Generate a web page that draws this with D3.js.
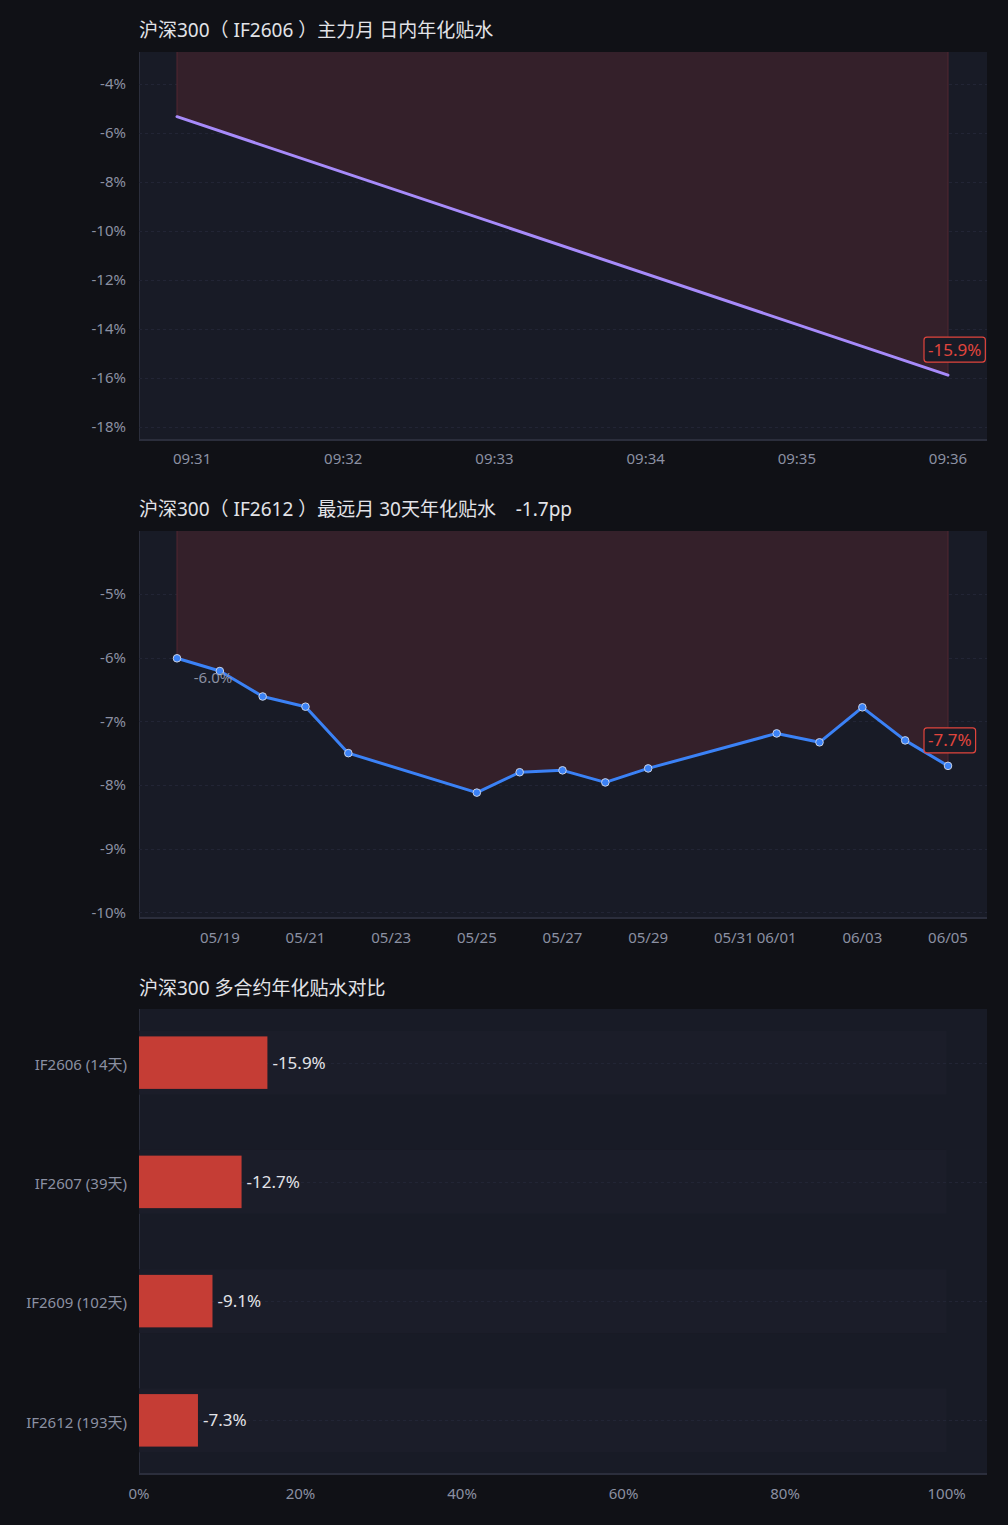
<!DOCTYPE html>
<html>
<head>
<meta charset="utf-8">
<script src="https://cdn.jsdelivr.net/npm/d3@7"></script>
<style>
  body { margin: 0; background: #101116; }
  svg text { font-family: "Noto Sans", "Noto Sans CJK SC", sans-serif; }
</style>
</head>
<body>
<div id="chart"></div>
<script>
var width = 1008;
var height = 1525;

// chart 1: intraday annualized basis (main month)
var introTimes = ["09:30:54", "09:36:00"];
var introValues = [-5.33, -15.88];
var introTicks = ["09:31", "09:32", "09:33", "09:34", "09:35", "09:36"];
var introYTicks = [-4, -6, -8, -10, -12, -14, -16, -18];

// chart 2: far month 30 days
var farDates = ["05/18", "05/19", "05/20", "05/21", "05/22", "05/25", "05/26", "05/27",
                "05/28", "05/29", "06/01", "06/02", "06/03", "06/04", "06/05"];
var farValues = [-6.01, -6.21, -6.61, -6.77, -7.50, -8.12, -7.80, -7.77,
                 -7.96, -7.74, -7.19, -7.33, -6.78, -7.30, -7.70];
var farTicks = ["05/19", "05/21", "05/23", "05/25", "05/27", "05/29", "05/31", "06/01", "06/03", "06/05"];
var farYTicks = [-5, -6, -7, -8, -9, -10];

// chart 3: contracts compare
var contracts = ["IF2606 (14天)", "IF2607 (39天)", "IF2609 (102天)", "IF2612 (193天)"];
var contractValues = [-15.9, -12.7, -9.1, -7.3];
var barTicks = [0, 20, 40, 60, 80, 100];

var C = {
    page: "#101116",
    plot: "#181b26",
    grid: "#222535",
    axis: "#2b2e3c",
    text: "#8b90a2",
    title: "#e2e3e8",
    redFill: "#34202a",
    redEdge: "#532630",
    purple: "#a78bfa",
    blue: "#3b82f6",
    bar: "#c53d35",
    tag: "#e0453d"
};

var left = 139, right = 987, padX = 38;

var fmt1 = d3.formatLocale({decimal: ".", thousands: ",", grouping: [3], currency: ["", ""], minus: "-"}).format(".1f");

var svg = d3.select("#chart").append("svg")
    .attr("width", width)
    .attr("height", height);

svg.append("rect").attr("width", width).attr("height", height).attr("fill", C.page);

var parseHM = d3.timeParse("%H:%M:%S");
var parseD = function(s){ return d3.timeParse("%Y/%m/%d")("2026/" + s); };

function title(y, txt){
    svg.append("text")
        .attr("x", left).attr("y", y)
        .attr("fill", C.title)
        .attr("font-size", 19)
        .style("white-space", "pre")
        .text(txt);
}

function plotFrame(top, bottom){
    svg.append("rect")
        .attr("x", left).attr("y", top)
        .attr("width", right - left).attr("height", bottom - top)
        .attr("fill", C.plot);
    svg.append("line")
        .attr("x1", left + 0.5).attr("x2", left + 0.5)
        .attr("y1", top).attr("y2", bottom)
        .attr("stroke", C.axis).attr("stroke-width", 1);
    svg.append("line")
        .attr("x1", left).attr("x2", right)
        .attr("y1", bottom).attr("y2", bottom)
        .attr("stroke", C.axis).attr("stroke-width", 2);
}

function yAxisGrid(y, ticks, fmt){
    var g = svg.append("g");
    g.selectAll("line").data(ticks).enter().append("line")
        .attr("x1", left).attr("x2", right)
        .attr("y1", function(d){ return Math.round(y(d)) + 0.5; })
        .attr("y2", function(d){ return Math.round(y(d)) + 0.5; })
        .attr("stroke", C.grid).attr("stroke-dasharray", "3,3");
    g.selectAll("text").data(ticks).enter().append("text")
        .attr("x", 126)
        .attr("y", function(d){ return y(d); })
        .attr("dy", "0.35em")
        .attr("text-anchor", "end")
        .attr("fill", C.text)
        .attr("font-size", 15)
        .text(fmt);
}

function tag(x, y, txt){
    var g = svg.append("g");
    var t = g.append("text")
        .attr("x", x - 20).attr("y", y - 25.5)
        .attr("dy", "0.35em")
        .attr("fill", C.tag)
        .attr("font-size", 17)
        .text(txt);
    var w = t.node().getComputedTextLength();
    g.insert("rect", "text")
        .attr("x", x - 24).attr("y", y - 38)
        .attr("width", w + 8).attr("height", 25)
        .attr("rx", 3)
        .attr("fill", C.plot)
        .attr("stroke", C.tag).attr("stroke-width", 1.2);
}

// ---------- chart 1 ----------
(function(){
    var top = 52, bottom = 440;
    title(37, "沪深300（ IF2606 ）主力月 日内年化贴水");
    plotFrame(top, bottom);

    var data = introTimes.map(function(t, i){ return {t: parseHM(t), v: introValues[i]}; });
    var x = d3.scaleTime()
        .domain(d3.extent(data, function(d){ return d.t; }))
        .range([left + padX, right - padX - 1]);
    var y = d3.scaleLinear().domain([-18.53, -2.69]).range([bottom, top]);

    yAxisGrid(y, introYTicks, function(d){ return d + "%"; });

    var area = d3.area()
        .x(function(d){ return x(d.t); })
        .y0(top)
        .y1(function(d){ return y(d.v); });
    svg.append("path").datum(data).attr("d", area).attr("fill", C.redFill);
    [data[0], data[data.length - 1]].forEach(function(d){
        svg.append("line")
            .attr("x1", x(d.t)).attr("x2", x(d.t))
            .attr("y1", top).attr("y2", y(d.v))
            .attr("stroke", C.redEdge).attr("stroke-width", 1);
    });

    var line = d3.line()
        .x(function(d){ return x(d.t); })
        .y(function(d){ return y(d.v); });
    svg.append("path").datum(data).attr("d", line)
        .attr("fill", "none").attr("stroke", C.purple)
        .attr("stroke-width", 3).attr("stroke-linecap", "round");

    var xa = svg.append("g");
    xa.selectAll("text").data(introTicks).enter().append("text")
        .attr("x", function(d){ return x(parseHM(d + ":00")); })
        .attr("y", 459).attr("dy", "0.35em")
        .attr("text-anchor", "middle")
        .attr("fill", C.text).attr("font-size", 15)
        .text(function(d){ return d; });

    var last = data[data.length - 1];
    tag(x(last.t), y(last.v), fmt1(last.v) + "%");
})();

// ---------- chart 2 ----------
(function(){
    var top = 531, bottom = 918;
    var diff = farValues[farValues.length - 1] - farValues[0];
    title(516, "沪深300（ IF2612 ）最远月 30天年化贴水    " + fmt1(diff) + "pp");
    plotFrame(top, bottom);

    var data = farDates.map(function(t, i){ return {t: parseD(t), v: farValues[i]}; });
    var x = d3.scaleTime()
        .domain(d3.extent(data, function(d){ return d.t; }))
        .range([left + padX, right - padX - 1]);
    var y = d3.scaleLinear().domain([-10.09, -4.01]).range([bottom, top]);

    yAxisGrid(y, farYTicks, function(d){ return d + "%"; });

    var area = d3.area()
        .x(function(d){ return x(d.t); })
        .y0(top)
        .y1(function(d){ return y(d.v); });
    svg.append("path").datum(data).attr("d", area).attr("fill", C.redFill);
    [data[0], data[data.length - 1]].forEach(function(d){
        svg.append("line")
            .attr("x1", x(d.t)).attr("x2", x(d.t))
            .attr("y1", top).attr("y2", y(d.v))
            .attr("stroke", C.redEdge).attr("stroke-width", 1);
    });

    var line = d3.line()
        .x(function(d){ return x(d.t); })
        .y(function(d){ return y(d.v); });
    svg.append("path").datum(data).attr("d", line)
        .attr("fill", "none").attr("stroke", C.blue)
        .attr("stroke-width", 3).attr("stroke-linejoin", "round");

    svg.append("g").selectAll("circle").data(data).enter().append("circle")
        .attr("cx", function(d){ return x(d.t); })
        .attr("cy", function(d){ return y(d.v); })
        .attr("r", 3.8)
        .attr("fill", C.blue)
        .attr("stroke", "#c9d2e6").attr("stroke-width", 1);

    // start value note
    svg.append("text")
        .attr("x", x(data[0].t) + 36).attr("y", y(data[0].v) + 19)
        .attr("dy", "0.35em")
        .attr("text-anchor", "middle")
        .attr("fill", C.text).attr("font-size", 15)
        .text(fmt1(data[0].v) + "%");

    var xa = svg.append("g");
    xa.selectAll("text").data(farTicks).enter().append("text")
        .attr("x", function(d){ return x(parseD(d)); })
        .attr("y", 938).attr("dy", "0.35em")
        .attr("text-anchor", "middle")
        .attr("fill", C.text).attr("font-size", 15)
        .text(function(d){ return d; });

    var last = data[data.length - 1];
    tag(x(last.t), y(last.v), fmt1(last.v) + "%");
})();

// ---------- chart 3 ----------
(function(){
    var top = 1009, bottom = 1474;
    title(995, "沪深300 多合约年化贴水对比");
    plotFrame(top, bottom);

    var x = d3.scaleLinear().domain([0, 105]).range([left, right]);
    var y = d3.scalePoint().domain(contracts).range([top, bottom]).padding(0.45);
    var barH = 52.5, bgH = 64;

    svg.append("g").selectAll("rect").data(contracts).enter().append("rect")
        .attr("x", x(0)).attr("width", x(100) - x(0))
        .attr("y", function(d){ return y(d) - bgH / 2; })
        .attr("height", bgH)
        .attr("fill", "#1b1d29");

    svg.append("g").selectAll("line").data(contracts).enter().append("line")
        .attr("x1", left).attr("x2", right)
        .attr("y1", function(d){ return Math.round(y(d)) + 0.5; })
        .attr("y2", function(d){ return Math.round(y(d)) + 0.5; })
        .attr("stroke", C.grid).attr("stroke-dasharray", "3,3");

    svg.append("g").selectAll("rect").data(contractValues).enter().append("rect")
        .attr("x", x(0))
        .attr("y", function(d, i){ return y(contracts[i]) - barH / 2; })
        .attr("width", function(d){ return x(Math.abs(d)) - x(0); })
        .attr("height", barH)
        .attr("fill", C.bar);

    svg.append("g").selectAll("text").data(contractValues).enter().append("text")
        .attr("x", function(d){ return x(Math.abs(d)) + 5; })
        .attr("y", function(d, i){ return y(contracts[i]); })
        .attr("dy", "0.35em")
        .attr("fill", C.title).attr("font-size", 17)
        .text(function(d){ return fmt1(d) + "%"; });

    svg.append("g").selectAll("text").data(contracts).enter().append("text")
        .attr("x", 127)
        .attr("y", function(d){ return y(d) + 2; })
        .attr("dy", "0.35em")
        .attr("text-anchor", "end")
        .attr("fill", C.text).attr("font-size", 15)
        .text(function(d){ return d; });

    svg.append("g").selectAll("text").data(barTicks).enter().append("text")
        .attr("x", function(d){ return x(d); })
        .attr("y", 1494).attr("dy", "0.35em")
        .attr("text-anchor", "middle")
        .attr("fill", C.text).attr("font-size", 15)
        .text(function(d){ return d + "%"; });
})();
</script>
</body>
</html>
